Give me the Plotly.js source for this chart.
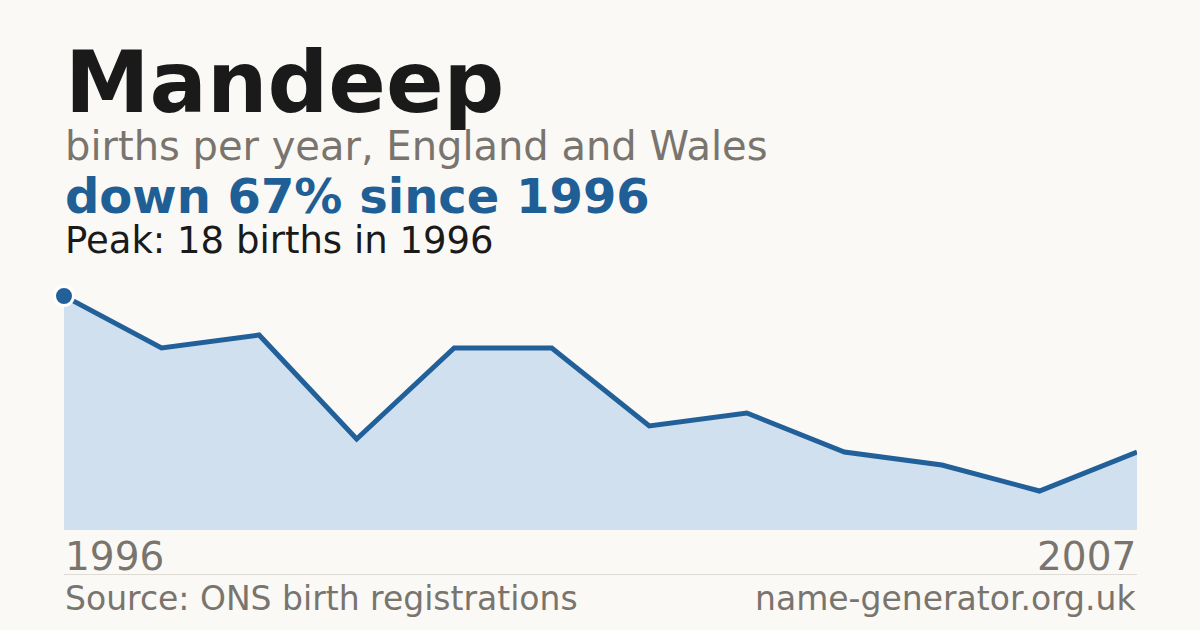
<!DOCTYPE html>
<html>
<head>
<meta charset="utf-8">
<script src="https://cdn.plot.ly/plotly-3.0.1.min.js"></script>
<style>
  html, body { margin: 0; padding: 0; background: #faf9f5; }
  #chart { width: 1200px; height: 630px; }
</style>
</head>
<body>
<div id="chart"></div>
<script>
const NAME = 'Mandeep'
const years = [1996, 1997, 1998, 1999, 2000, 2001, 2002, 2003, 2004, 2005, 2006, 2007]
const births = [18, 14, 15, 7, 14, 14, 8, 9, 6, 5, 3, 6]

const COLOR_LINE = '#22609a'
const COLOR_FILL = '#d0e0ef'
const COLOR_GREY = '#79756e'
const COLOR_INK = '#1a1a1a'
const FONT = 'DejaVu Sans, sans-serif'

// plot area sits between these pixel rows
const PLOT_TOP = 296
const PLOT_BOTTOM = 530
const toPaper = px => (PLOT_BOTTOM - px) / (PLOT_BOTTOM - PLOT_TOP)
// annotation bottoms: baseline + descent
const bottomFor = (baseline, size) => toPaper(baseline + 0.236 * size)

const peak = Math.max(...births)
const peakIdx = births.indexOf(peak)
const first = births[0]
const last = births[births.length - 1]
const change = Math.round((1 - last / first) * 100)

const traces = [
  {
    x: years,
    y: births,
    mode: 'lines',
    type: 'scatter',
    fill: 'tozeroy',
    fillcolor: COLOR_FILL,
    line: { color: COLOR_LINE, width: 5 },
    cliponaxis: false,
    hoverinfo: 'skip'
  },
  {
    x: [years[peakIdx]],
    y: [peak],
    mode: 'markers',
    type: 'scatter',
    marker: { color: COLOR_LINE, size: 19, line: { color: '#ffffff', width: 3 } },
    cliponaxis: false,
    hoverinfo: 'skip'
  }
]

function label (text, x, xanchor, baseline, size, color, bold) {
  return {
    text: bold ? '<b>' + text + '</b>' : text,
    xref: 'paper', yref: 'paper',
    x: x, xanchor: xanchor,
    y: bottomFor(baseline, size), yanchor: 'bottom',
    borderpad: 0,
    showarrow: false,
    font: { family: FONT, size: size, color: color }
  }
}

const layout = {
  width: 1200,
  height: 630,
  margin: { l: 64, r: 63, t: PLOT_TOP, b: 630 - PLOT_BOTTOM, pad: 0 },
  paper_bgcolor: '#faf9f5',
  plot_bgcolor: '#faf9f5',
  showlegend: false,
  xaxis: { range: [years[0], years[years.length - 1]], visible: false, fixedrange: true },
  yaxis: { range: [0, peak], visible: false, fixedrange: true },
  shapes: [
    {
      type: 'line', xref: 'paper', yref: 'paper',
      x0: 0, x1: 1, y0: toPaper(574.5), y1: toPaper(574.5),
      line: { color: '#dedbd4', width: 1 }
    }
  ],
  annotations: [
    label(NAME, 0, 'left', 113, 85, COLOR_INK, true),
    label('births per year, England and Wales', 0, 'left', 161, 40, COLOR_GREY, false),
    label('down ' + change + '% since ' + years[0], 0, 'left', 214, 48, '#1f5f96', true),
    label('Peak: ' + peak + ' births in ' + years[peakIdx], 0, 'left', 254, 37, COLOR_INK, false),
    label(String(years[0]), 0, 'left', 571, 39, COLOR_GREY, false),
    label(String(years[years.length - 1]), 1, 'right', 571, 39, COLOR_GREY, false),
    label('Source: ONS birth registrations', 0, 'left', 611, 33, COLOR_GREY, false),
    label('name-generator.org.uk', 1, 'right', 611, 33, COLOR_GREY, false)
  ]
}

Plotly.newPlot('chart', traces, layout, { displayModeBar: false, staticPlot: true })
</script>
</body>
</html>
